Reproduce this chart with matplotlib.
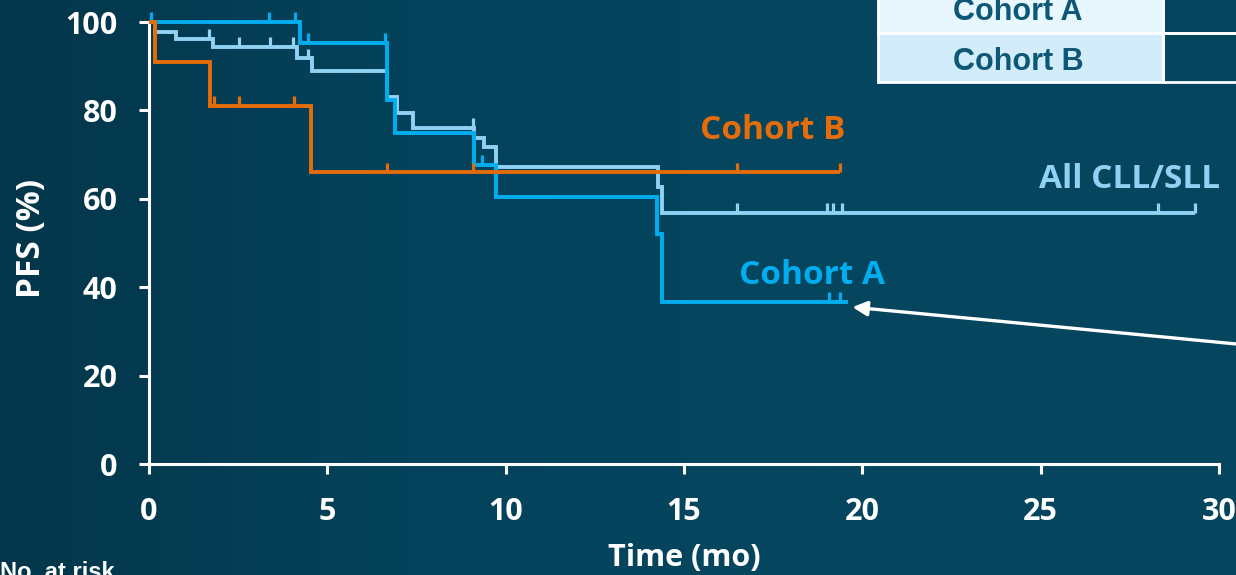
import numpy as np
import matplotlib
matplotlib.use("Agg")
import matplotlib.pyplot as plt
from matplotlib.colors import LinearSegmentedColormap
from matplotlib.patches import Rectangle

# ---- data -------------------------------------------------------------
# Kaplan-Meier steps: event times (months) and PFS (%) after each step
all_times = [0, 0.17, 0.76, 1.80, 4.15, 4.57, 6.67, 6.95, 7.40, 9.12, 9.40, 9.72, 14.27, 14.37]
all_surv = [100, 97.7, 96.2, 94.3, 91.8, 89.0, 83.0, 79.4, 76.0, 73.7, 71.7, 67.2, 62.7, 56.8]
all_end = 29.33
all_censor = [1.68, 2.52, 3.39, 4.04, 4.45, 9.08, 16.48, 19.0, 19.18, 19.43, 28.29, 29.33]

a_times = [0, 4.24, 6.67, 6.90, 9.12, 9.72, 14.23, 14.37]
a_surv = [100, 95.2, 82.4, 75.0, 67.6, 60.4, 52.0, 36.7]
a_end = 19.6
a_censor = [0.06, 3.36, 4.09, 4.46, 6.62, 9.34, 19.06, 19.37]

b_times = [0, 0.17, 1.72, 4.55]
b_surv = [100, 91.0, 81.0, 66.0]
b_end = 19.37
b_censor = [1.82, 2.52, 4.07, 6.67, 9.08, 16.48, 19.37]

x_ticks = [0, 5, 10, 15, 20, 25, 30]
y_ticks = [0, 20, 40, 60, 80, 100]
table_rows = ["Cohort A", "Cohort B"]

# ---- styling ------------------------------------------------------------
C_ALL = "#8fd2f4"
C_A = "#00aeef"
C_B = "#e46c0a"
FONT = "Open Sans"

fig = plt.figure(figsize=(12.36, 5.75), dpi=100)

# background gradient
bg = fig.add_axes([0, 0, 1, 1], zorder=-10)
cmap = LinearSegmentedColormap.from_list("bg", ["#03364a", "#05435c", "#05465f", "#05455e"])
grad = np.tile(np.linspace(0, 1, 256), (16, 1))
bg.imshow(grad, aspect="auto", cmap=cmap, extent=[0, 1, 0, 1])
bg.set_axis_off()

ax = fig.add_axes([149 / 1236, 1 - 464 / 575, (1219 - 149) / 1236, (464 - 22) / 575])
ax.set_facecolor("none")
ax.set_xlim(0, 30)
ax.set_ylim(0, 100)

lw = 2.8


def survival_at(times, surv, t):
    idx = np.searchsorted(times, t, side="right") - 1
    return surv[max(idx, 0)]


def draw_curve(times, surv, end, censor, color, z):
    xs = np.r_[times, end]
    ys = np.r_[surv, surv[-1]]
    ax.step(xs, ys, where="post", color=color, lw=lw, zorder=z, clip_on=False,
            solid_joinstyle="miter", solid_capstyle="butt")
    for t in censor:
        s = survival_at(times, surv, t)
        ax.plot([t, t], [s, s + 2.2], color=color, lw=2.3, zorder=z,
                clip_on=False, solid_capstyle="butt")


draw_curve(all_times, all_surv, all_end, all_censor, C_ALL, 3)
draw_curve(a_times, a_surv, a_end, a_censor, C_A, 4)
draw_curve(b_times, b_surv, b_end, b_censor, C_B, 5)

# axes
for side in ("top", "right"):
    ax.spines[side].set_visible(False)
for side in ("left", "bottom"):
    ax.spines[side].set_color("white")
    ax.spines[side].set_linewidth(2.2)
ax.set_xticks(x_ticks)
ax.set_yticks(y_ticks)
ax.tick_params(axis="both", colors="white", width=2.2, length=7.5, direction="out")
ax.tick_params(axis="y", pad=15)
ax.tick_params(axis="x", pad=16)
for lab in ax.get_xticklabels() + ax.get_yticklabels():
    lab.set_fontfamily(FONT)
    lab.set_fontweight("bold")
    lab.set_fontsize(22)
    lab.set_color("white")

ax.set_ylabel("PFS (%)", fontfamily=FONT, fontweight="bold", fontsize=24,
              color="white")
ax.set_xlabel("Time (mo)", fontfamily=FONT, fontweight="bold", fontsize=22,
              color="white", labelpad=12)
ax.yaxis.set_label_coords(-0.094, 0.51)

# curve labels
lab_kw = dict(fontfamily=FONT, fontweight="bold", fontsize=24, ha="center", va="center",
              clip_on=False)
ax.text(17.5, 75.4, "Cohort B", color=C_B, **lab_kw)
ax.text(27.5, 64.4, "All CLL/SLL", color=C_ALL, **lab_kw)
ax.text(18.6, 42.7, "Cohort A", color=C_A, **lab_kw)

# arrow pointing at the end of Cohort A
ax.annotate("", xy=(19.72, 35.5), xytext=(31.2, 26.6), xycoords="data",
            annotation_clip=False,
            arrowprops=dict(arrowstyle="-|>", color="white", lw=2.4,
                            mutation_scale=22, shrinkA=0, shrinkB=0))

# summary table in the upper right
W, H = 1236, 575


def fx(px):
    return px / W


def fy(py):
    return 1 - py / H


row_edges = [-16, 33, 82]
row_fill = ["#e8f6fd", "#d3ecfa"]
for i, name in enumerate(table_rows):
    top, bot = row_edges[i], row_edges[i + 1]
    fig.patches.append(Rectangle((fx(878), fy(bot)), fx(1163) - fx(878), fy(top) - fy(bot),
                                 transform=fig.transFigure, facecolor=row_fill[i],
                                 edgecolor="white", lw=2, zorder=20))
    fig.patches.append(Rectangle((fx(1163), fy(bot)), fx(1260) - fx(1163), fy(top) - fy(bot),
                                 transform=fig.transFigure, facecolor="none",
                                 edgecolor="white", lw=2, zorder=20))
    fig.text(fx(1018), fy((top + bot) / 2 + 4), name, ha="center", va="center",
             fontfamily="Liberation Sans", fontweight="bold", fontsize=22,
             color="#0d5877", zorder=21)

fig.text(0.0, fy(561), "No. at risk", ha="left", va="top", fontfamily="Liberation Sans",
         fontweight="bold", fontsize=17, color="white")

fig.savefig("out.png", dpi=100)
